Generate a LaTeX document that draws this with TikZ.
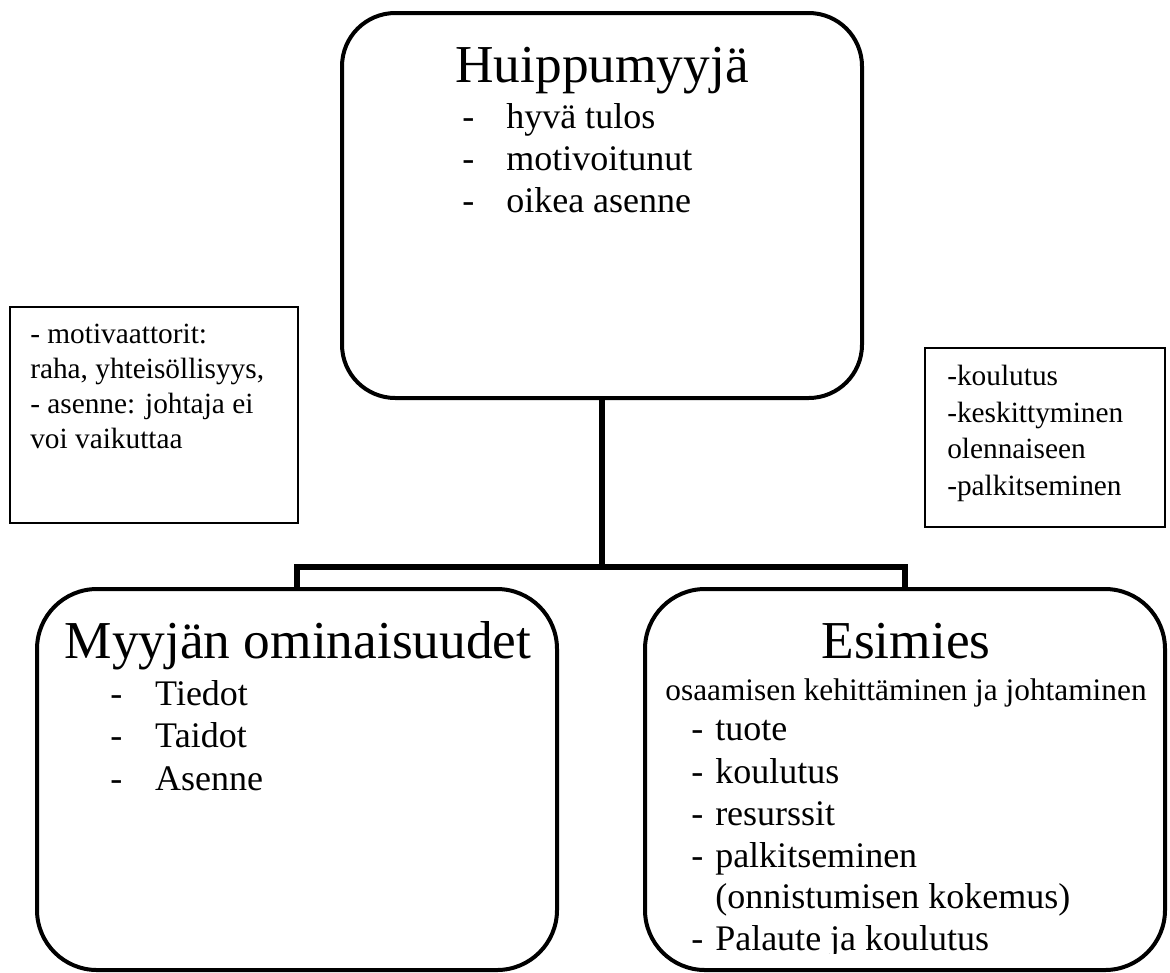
\documentclass[tikz,border=0pt]{standalone}
\usepackage{fontspec}
\setmainfont{Liberation Serif}
\begin{document}
\begin{tikzpicture}[x=0.75pt,y=-0.75pt,
  card/.style={draw=black, line width=3pt, minimum width=390pt, inner sep=0pt},
  note/.style={draw=black, line width=1pt, inner sep=0pt},
  link/.style={line width=3.8pt, line join=miter},
  title/.style={anchor=base, inner sep=0pt, font=\fontsize{40}{48}\selectfont},
  item/.style={anchor=base west, inner sep=0pt, font=\fontsize{27}{32}\selectfont},
  small/.style={anchor=base west, inner sep=0pt, font=\fontsize{22}{26}\selectfont},
  subline/.style={anchor=base, inner sep=0pt, font=\fontsize{23.5}{28}\selectfont},
]
\useasboundingbox (0,0) rectangle (1170,972);

% main boxes
\node[card, rounded corners=40pt, minimum height=288.75pt] (top) at (602,205.5) {};
\node[card, rounded corners=45pt, minimum height=285.75pt] (seller) at (297,779.5) {};
\node[card, rounded corners=45pt, minimum height=285.75pt] (boss) at (905,779.5) {};

% side notes
\node[note, minimum width=216pt, minimum height=162pt] (motiv) at (154,415) {};
\node[note, minimum width=180pt, minimum height=134.25pt] (dev) at (1045,437.5) {};

% tree connectors
\coordinate (bus) at (602,567);
\draw[link] (top.south) -- (bus);
\draw[link] (seller.north) |- (bus) -| (boss.north);

% top box text
\node[title] (h1) at (602,82) {Huippumyyjä};
\node[item] (h1a) at (462,128) {\makebox[33pt][l]{-}hyvä tulos};
\node[item] (h1b) at (462,170) {\makebox[33pt][l]{-}motivoitunut};
\node[item] (h1c) at (462,212) {\makebox[33pt][l]{-}oikea asenne};

% left note text
\node[small] (m1) at (30,343) {- motivaattorit:};
\node[small] (m2) at (30,378) {raha, yhteisöllisyys,};
\node[small] (m3) at (30,413) {- asenne: johtaja ei};
\node[small] (m4) at (30,448) {voi vaikuttaa};

% right note text
\node[small] (d1) at (947,385) {-koulutus};
\node[small] (d2) at (947,422) {-keskittyminen};
\node[small] (d3) at (947,458) {olennaiseen};
\node[small] (d4) at (947,495) {-palkitseminen};

% seller box text
\node[title] (h2) at (298,658) {Myyjän ominaisuudet};
\node[item] (h2a) at (110,705) {\makebox[33.75pt][l]{-}Tiedot};
\node[item] (h2b) at (110,747) {\makebox[33.75pt][l]{-}Taidot};
\node[item] (h2c) at (110,790) {\makebox[33.75pt][l]{-}Asenne};

% manager box text
\node[title] (h3) at (906,658) {Esimies};
\node[subline] (h3s) at (906,700) {osaamisen kehittäminen ja johtaminen};
\node[item] (h3a) at (691,740) {\makebox[18pt][l]{-}tuote};
\node[item] (h3b) at (691,783) {\makebox[18pt][l]{-}koulutus};
\node[item] (h3c) at (691,825) {\makebox[18pt][l]{-}resurssit};
\node[item] (h3d) at (691,867) {\makebox[18pt][l]{-}palkitseminen};
\node[item] (h3e) at (715,908) {(onnistumisen kokemus)};
\begin{scope}
  \clip (600,900) rectangle (1170,953);
  \node[item] (h3f) at (691,950) {\makebox[18pt][l]{-}Palaute ja koulutus};
\end{scope}
\end{tikzpicture}
\end{document}
